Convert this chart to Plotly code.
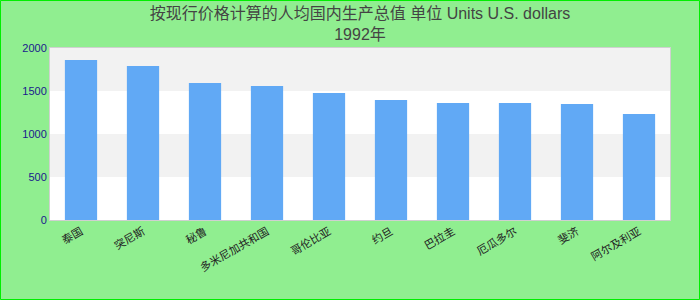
import plotly.graph_objects as go

categories = ["泰国", "突尼斯", "秘鲁", "多米尼加共和国", "哥伦比亚",
              "约旦", "巴拉圭", "厄瓜多尔", "斐济", "阿尔及利亚"]
values = [1860, 1791, 1593, 1558, 1477, 1395, 1360, 1360, 1349, 1233]
y_ticks = [0, 500, 1000, 1500, 2000]
title_line1 = "按现行价格计算的人均国内生产总值 单位 Units U.S. dollars"
title_line2 = "1992年"

fig = go.Figure()
fig.add_trace(go.Bar(x=categories, y=values, marker=dict(color="#61a9f5", line=dict(width=0))))

shapes = []
for lo, hi, col in [(0, 500, "#ffffff"), (500, 1000, "#f2f2f2"),
                    (1000, 1500, "#ffffff"), (1500, 2000, "#f2f2f2")]:
    shapes.append(dict(type="rect", xref="paper", yref="y", x0=0, x1=1, y0=lo, y1=hi,
                       fillcolor=col, line=dict(width=0), layer="below"))
# outer figure border
shapes.append(dict(type="rect", xref="paper", yref="paper",
                   x0=(0.5 - 50) / 620, x1=(699.5 - 50) / 620,
                   y0=(220 - 299.5) / 172, y1=(220 - 0.5) / 172,
                   line=dict(color="#00ee00", width=1), fillcolor="rgba(0,0,0,0)", layer="above"))

fig.update_layout(
    width=700, height=300,
    margin=dict(l=50, r=30, t=48, b=80),
    paper_bgcolor="#90ee90",
    plot_bgcolor="#ffffff",
    bargap=0.48,
    showlegend=False,
    shapes=shapes,
    title=dict(text=title_line1 + "<br>" + title_line2, x=0.5, xanchor="center",
               xref="paper", yref="container", y=1 - 19 / 300, yanchor="middle",
               font=dict(family="Liberation Sans, Arial, Noto Sans CJK SC", size=16, color="#444444")),
    font=dict(family="Liberation Sans, Arial, Noto Sans CJK SC"),
)
fig.update_xaxes(tickangle=-30, tickfont=dict(size=11, color="#222222"),
                 showline=True, mirror=True, linecolor="#d0d0d0", linewidth=1,
                 showgrid=False, ticks="")
fig.update_yaxes(range=[0, 2000], tickvals=y_ticks, tickfont=dict(size=11, color="#1a1a8c"),
                 showline=True, mirror=True, linecolor="#d0d0d0", linewidth=1,
                 showgrid=False, zeroline=False, ticks="")

fig.write_html("out.html")
